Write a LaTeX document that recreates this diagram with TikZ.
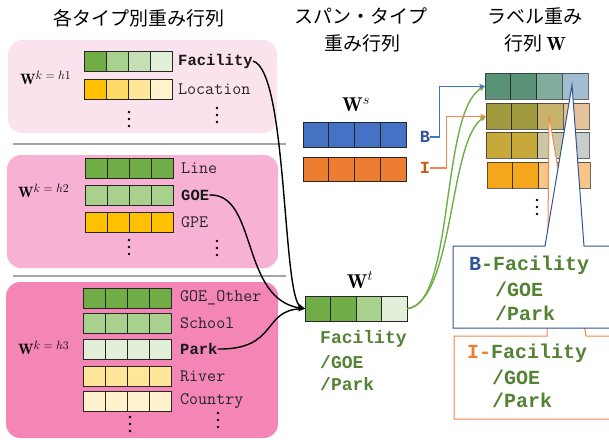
\documentclass[tikz,border=0pt]{standalone}
\usepackage{fontspec}
\newfontfamily\jp{Noto Sans CJK JP}
\newfontfamily\bmono{Liberation Mono}
\usetikzlibrary{arrows.meta}
\definecolor{gA}{HTML}{70AD47}
\definecolor{gB}{HTML}{A9D18E}
\definecolor{gC}{HTML}{C5E0B4}
\definecolor{gD}{HTML}{E2F0D9}
\definecolor{yA}{HTML}{FFC000}
\definecolor{yB}{HTML}{FFD966}
\definecolor{yC}{HTML}{FFE699}
\definecolor{yD}{HTML}{FFF2CC}
\definecolor{pOne}{HTML}{FBE3ED}
\definecolor{pTwo}{HTML}{F7B2D3}
\definecolor{pThree}{HTML}{F486B6}
\definecolor{sepgray}{HTML}{A6A6A6}
\definecolor{blueA}{HTML}{4472C4}
\definecolor{orA}{HTML}{ED7D31}
\definecolor{txtgreen}{HTML}{548235}
\definecolor{txtblue}{HTML}{2F5597}
\definecolor{txtorange}{HTML}{C55A11}
\definecolor{lnblue}{HTML}{4472C4}
\definecolor{lnorange}{HTML}{F4884A}
\definecolor{mA}{HTML}{5A9277}
\definecolor{mB}{HTML}{82AC9C}
\definecolor{mC}{HTML}{A2BDD2}
\definecolor{mD}{HTML}{A19A3E}
\definecolor{mE}{HTML}{C8B36C}
\definecolor{mF}{HTML}{E7C39C}
\definecolor{mG}{HTML}{C6A93A}
\definecolor{mH}{HTML}{CBC6A6}
\definecolor{mI}{HTML}{C8CCCB}
\definecolor{mJ}{HTML}{F5A71C}
\definecolor{mK}{HTML}{F8C587}
\newcommand{\mkrow}[8]{%
  \foreach \ii/\cl in {0/#5,1/#6,2/#7,3/#8}{%
    \filldraw[fill=\cl,draw=black!85,line width=1pt] ({#1+\ii*#3},#2) rectangle ++(#3,#4);}}
\newcommand{\Wk}[1]{$\mathbf{W}^{\hbox{\fontsize{13}{13}\selectfont$k = h#1$}}$}
\newcommand{\vdotsat}[2]{\foreach \dd in {0,7,14}{\fill (#1,{#2+\dd}) circle (1.3);}}
\begin{document}
\begin{tikzpicture}[x=1pt,y=-1pt,
  title/.style={font=\jp\fontsize{19}{22}\selectfont, inner sep=0},
  lab/.style={font=\ttfamily\fontsize{17.5}{17.5}\selectfont, anchor=west, inner sep=0, text=black!85},
  blab/.style={font=\bmono\bfseries\fontsize{15.5}{15.5}\selectfont, anchor=west, inner sep=0, text=black!90},
  wlab/.style={font=\fontsize{15}{17}\selectfont, anchor=west, inner sep=0},
  bigw/.style={font=\fontsize{20}{22}\selectfont, inner sep=0},
  gtxt/.style={font=\bmono\bfseries\fontsize{18}{18}\selectfont, anchor=west, inner sep=0, text=txtgreen},
  ctxt/.style={font=\bmono\bfseries\fontsize{20}{20}\selectfont, anchor=west, inner sep=0, text=txtgreen},
  blk/.style={draw=black, line width=1.4pt, -{Stealth[length=7pt,width=5pt]}},
  grn/.style={draw=gA, line width=1.4pt, -{Stealth[length=6pt,width=5pt]}},
  box/.style={inner sep=0, minimum width=#1, minimum height=0},
]
\useasboundingbox (0,0) rectangle (609,439);
\clip (0,0) rectangle (609,439);

% titles
\node[title] (t1) at (139,18) {各タイプ別重み行列};
\node[title] (t2) at (361,16) {スパン・タイプ};
\node[title] (t3) at (362,43) {重み行列};
\node[title] (t4) at (535,16) {ラベル重み};
\node[title] (t5) at (535,43) {行列 {\rmfamily\fontsize{19}{20}\selectfont$\mathbf{W}$}};

% panels
\fill[pOne,rounded corners=14] (8,40) rectangle (277,133);
\fill[pTwo,rounded corners=14] (7,155) rectangle (278,268);
\fill[pThree,rounded corners=14] (6,282) rectangle (278,438);
\draw[sepgray,line width=1.5pt] (13,144) -- (286,144);
\draw[sepgray,line width=1.5pt] (13,276) -- (286,276);

% panel 1
\node[wlab] (w1) at (20,78) {\Wk{1}};
\mkrow{84}{51}{22}{20}{gA}{gB}{gC}{gD}
\mkrow{84}{79}{22}{20}{yA}{yB}{yC}{yD}
\node[blab] (fac) at (178,61) {Facility};
\node[lab] (loc) at (178,89) {Location};
\vdotsat{129}{112}
\vdotsat{217}{108}

% panel 2
\node[wlab] (w2) at (18,191) {\Wk{2}};
\mkrow{85}{158}{22}{20}{gA}{gA}{gA}{gA}
\mkrow{85}{185}{22}{20}{gB}{gB}{gB}{gB}
\mkrow{85}{212}{22}{20}{yA}{yA}{yA}{yA}
\node[lab] (line) at (181,168) {Line};
\node[blab] (goe) at (181,195) {GOE};
\node[lab] (gpe) at (181,222) {GPE};
\vdotsat{129}{240}
\vdotsat{217}{241}

% panel 3
\node[wlab] (w3) at (18,348) {\Wk{3}};
\mkrow{83}{288}{22}{20}{gA}{gA}{gA}{gA}
\mkrow{83}{313}{22}{20}{gB}{gB}{gB}{gB}
\mkrow{83}{339}{22}{20}{gD}{gD}{gD}{gD}
\mkrow{83}{366}{22}{20}{yC}{yC}{yC}{yC}
\mkrow{83}{391}{22}{20}{yD}{yD}{yD}{yD}
\node[lab] (goeo) at (180,298) {GOE\_Other};
\node[lab] (school) at (180,323) {School};
\node[blab] (park) at (180,349) {Park};
\node[lab] (river) at (180,376) {River};
\node[lab] (country) at (180,401) {Country};
\vdotsat{130}{417}
\vdotsat{218}{413}

% span matrix
\node[bigw] (ws) at (356,105) {$\mathbf{W}^{s}$};
\mkrow{303}{122}{25.75}{25}{blueA}{blueA}{blueA}{blueA}
\mkrow{303}{157}{25.75}{24}{orA}{orA}{orA}{orA}
\node[font=\bmono\bfseries\fontsize{17}{17}\selectfont, text=txtblue, inner sep=0] (bl) at (425,137) {B};
\node[font=\bmono\bfseries\fontsize{17}{17}\selectfont, text=txtorange, inner sep=0] (il) at (425,168) {I};

% type matrix
\node[bigw] (wtl) at (360,280) {$\mathbf{W}^{t}$};
\node[box=102pt, minimum height=25pt, anchor=north west] (wt) at (305,296) {};
\mkrow{305}{296}{25.5}{25}{gA}{gA}{gB}{gD}
\node[gtxt] (wt1) at (320,339) {Facility};
\node[gtxt] (wt2) at (320,362) {/GOE};
\node[gtxt] (wt3) at (320,384) {/Park};

% label matrix
\node[box=103pt, minimum height=26pt, anchor=north west] (lr1) at (485,73) {};
\node[box=103pt, minimum height=26pt, anchor=north west] (lr2) at (486,103) {};
\begin{scope}[draw opacity=0.7]
\mkrow{485}{73}{25.75}{26}{mA}{mA}{mB}{mC}
\mkrow{486}{103}{25.75}{26}{mD}{mD}{mE}{mF}
\mkrow{486}{132}{25.75}{26}{mG}{mG}{mH}{mI}
\mkrow{487}{162}{25.75}{26}{mJ}{mJ}{mK}{mK}
\end{scope}
\vdotsat{537}{200}

% connectors
\draw[blk] (fac.east) .. controls (288,70) and (282,300) .. (wt.west);
\draw[blk] (goe.east) .. controls (258,193) and (240,300) .. (wt.west);
\draw[blk] (park.east) .. controls (278,350) and (262,310) .. (wt.west);
\draw[grn] (wt.east) .. controls (455,305) and (440,110) .. (lr1.west);
\draw[grn] (wt.east) .. controls (455,300) and (448,140) .. (lr2.west);
\draw[lnblue, line width=1.2pt, -{Stealth[length=6pt,width=5pt]}] (bl.east) -- ++(9,0) |- (lr1.west);
\draw[lnorange, line width=1.2pt, -{Stealth[length=6pt,width=5pt]}] (il.east) -- ++(16,0) |- (lr2.west);

% callouts
\filldraw[fill=white, draw=lnorange, line width=1pt] (454,336) -- (547,336) -- (549,115) -- (586,336) -- (615,336) -- (615,419) -- (454,419) -- cycle;
\filldraw[fill=white, draw=txtblue, line width=1pt] (453,246) -- (545,246) -- (572,85) -- (584,246) -- (615,246) -- (615,328) -- (453,328) -- cycle;
\node[ctxt] (cb1) at (469,265) {\textcolor{txtblue}{B}-Facility};
\node[ctxt] (cb2) at (495,289) {/GOE};
\node[ctxt] (cb3) at (495,313) {/Park};
\node[ctxt] (ci1) at (467,353) {\textcolor{orA}{I-}Facility};
\node[ctxt] (ci2) at (492,377) {/GOE};
\node[ctxt] (ci3) at (492,400) {/Park};
\end{tikzpicture}
\end{document}
